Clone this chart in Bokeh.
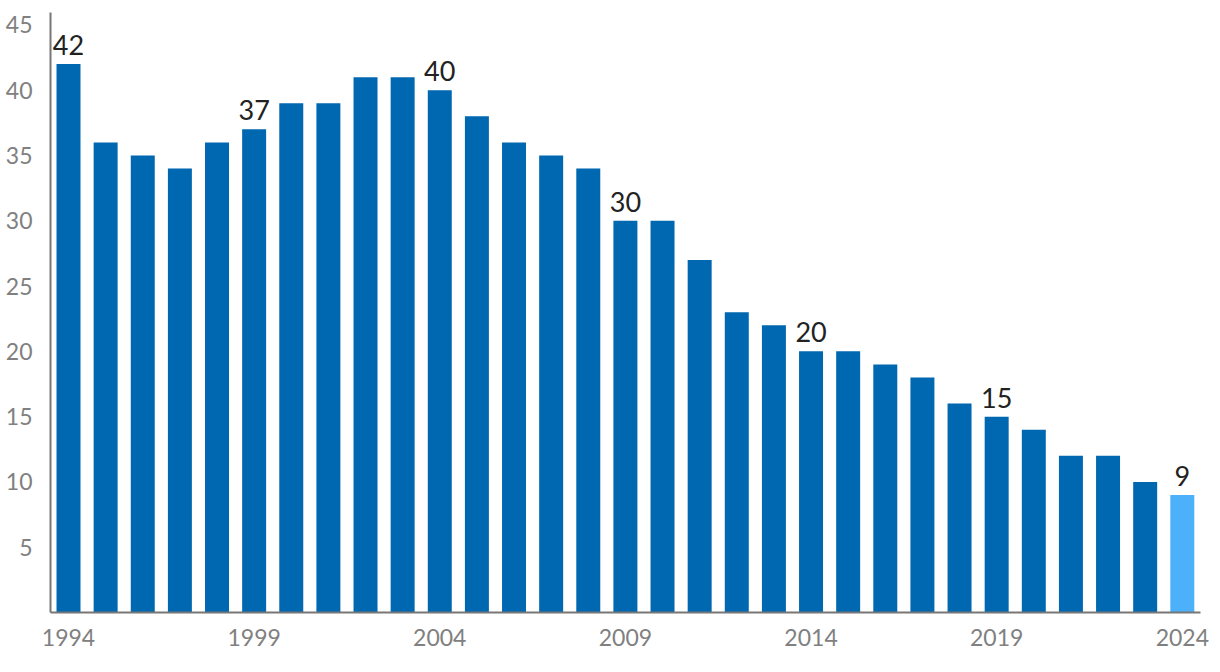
from bokeh.plotting import figure
from bokeh.models import ColumnDataSource, FixedTicker, Range1d
from bokeh.core.properties import value
from bokeh.embed import file_html
from bokeh.resources import INLINE

years = list(range(1994, 2025))
values = [42, 36, 35, 34, 36, 37, 39, 39, 41, 41, 40, 38, 36, 35, 34, 30, 30, 27,
          23, 22, 20, 20, 19, 18, 16, 15, 14, 12, 12, 10, 9]
label_years = [1994, 1999, 2004, 2009, 2014, 2019, 2024]
y_ticks = [5, 10, 15, 20, 25, 30, 35, 40, 45]

colors = ["#0067b1"] * (len(years) - 1) + ["#4db0fb"]
src = ColumnDataSource(dict(x=years, top=values, color=colors))
lab_vals = [values[years.index(y)] for y in label_years]
lab_src = ColumnDataSource(dict(x=label_years, y=lab_vals, t=[str(v) for v in lab_vals]))

p = figure(width=1220, height=672, output_backend="svg", toolbar_location=None,
           x_range=Range1d(1993.515, 2024.49), y_range=Range1d(0, 45.95),
           min_border_left=50, min_border_right=20, min_border_top=12, min_border_bottom=60)
p.outline_line_color = None
p.xgrid.visible = False
p.ygrid.visible = False

p.vbar(x="x", top="top", width=0.646, fill_color="color", line_color=None, source=src)
p.text(x="x", y="y", text="t", source=lab_src, text_align="center", text_baseline="bottom",
       y_offset=-9, text_font=value("Lato"), text_font_size="27px", text_color="#222222")

for ax in (p.xaxis[0], p.yaxis[0]):
    ax.axis_line_color = "#777777"
    ax.axis_line_width = 2
    ax.major_tick_line_color = None
    ax.minor_tick_line_color = None
    ax.major_label_text_font = "Lato"
    ax.major_label_text_font_size = "23px"
    ax.major_label_text_color = "#808080"

p.xaxis.ticker = FixedTicker(ticks=label_years)
p.yaxis.ticker = FixedTicker(ticks=y_ticks)
p.xaxis.major_label_standoff = 10
p.yaxis.major_label_standoff = 12

open("out.html", "w").write(file_html(p, INLINE))
